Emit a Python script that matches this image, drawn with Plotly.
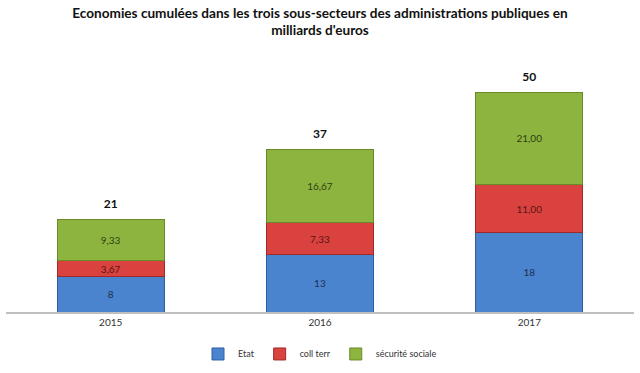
import plotly.graph_objects as go

years = ["2015", "2016", "2017"]
etat = [8, 13, 18]
coll_terr = [3.67, 7.33, 11.00]
secu = [9.33, 16.67, 21.00]
etat_labels = ["8", "13", "18"]
coll_labels = ["3,67", "7,33", "11,00"]
secu_labels = ["9,33", "16,67", "21,00"]
totals = [21, 37, 50]

font = "Lato, 'Open Sans', sans-serif"
fig = go.Figure()
fig.add_bar(x=years, y=etat, name="Etat", text=etat_labels, textposition="inside",
            insidetextanchor="middle", textfont=dict(color="#1f2f4f", size=10),
            marker=dict(color="#4a84cf", line=dict(color="#2f5f9f", width=1)))
fig.add_bar(x=years, y=coll_terr, name="coll terr", text=coll_labels, textposition="inside",
            insidetextanchor="middle", textfont=dict(color="#5a1515", size=10),
            marker=dict(color="#d9423f", line=dict(color="#a02a28", width=1)))
fig.add_bar(x=years, y=secu, name="sécurité sociale", text=secu_labels, textposition="inside",
            insidetextanchor="middle", textfont=dict(color="#2f3f10", size=10),
            marker=dict(color="#8db43f", line=dict(color="#6a8a2a", width=1)))
fig.add_scatter(x=years, y=totals, mode="markers+text", text=[str(t) for t in totals],
                marker=dict(size=12, opacity=0),
                textposition="top center", textfont=dict(size=12, color="#111", family=font, weight="bold"),
                showlegend=False, hoverinfo="skip", cliponaxis=False)

fig.update_layout(
    barmode="stack", bargap=0.49,
    width=640, height=373,
    margin=dict(l=6, r=6, t=70, b=61, autoexpand=False),
    paper_bgcolor="white", plot_bgcolor="white",
    font=dict(family=font, color="#333"),
    title=dict(text="<b>Economies cumulées dans les trois sous-secteurs des administrations publiques en<br>milliards d'euros</b>",
               x=0.5, xanchor="center", yref="container", y=0.953, yanchor="top",
               font=dict(size=13.6, color="#111")),
    legend=dict(orientation="h", x=0.5, xanchor="center", yref="container", y=0.051, yanchor="middle",
                font=dict(size=9, color="#333"), traceorder="normal", itemwidth=30),
    uniformtext=dict(mode="show", minsize=10),
)
fig.update_xaxes(showline=True, linecolor="#bfbfbf", linewidth=2, ticks="", tickfont=dict(size=10, color="#333"))
fig.update_yaxes(range=[0, 55], visible=False, showgrid=False)
fig.write_html("out.html", config={"displayModeBar": False},
               post_script="document.body.style.margin='0';")
